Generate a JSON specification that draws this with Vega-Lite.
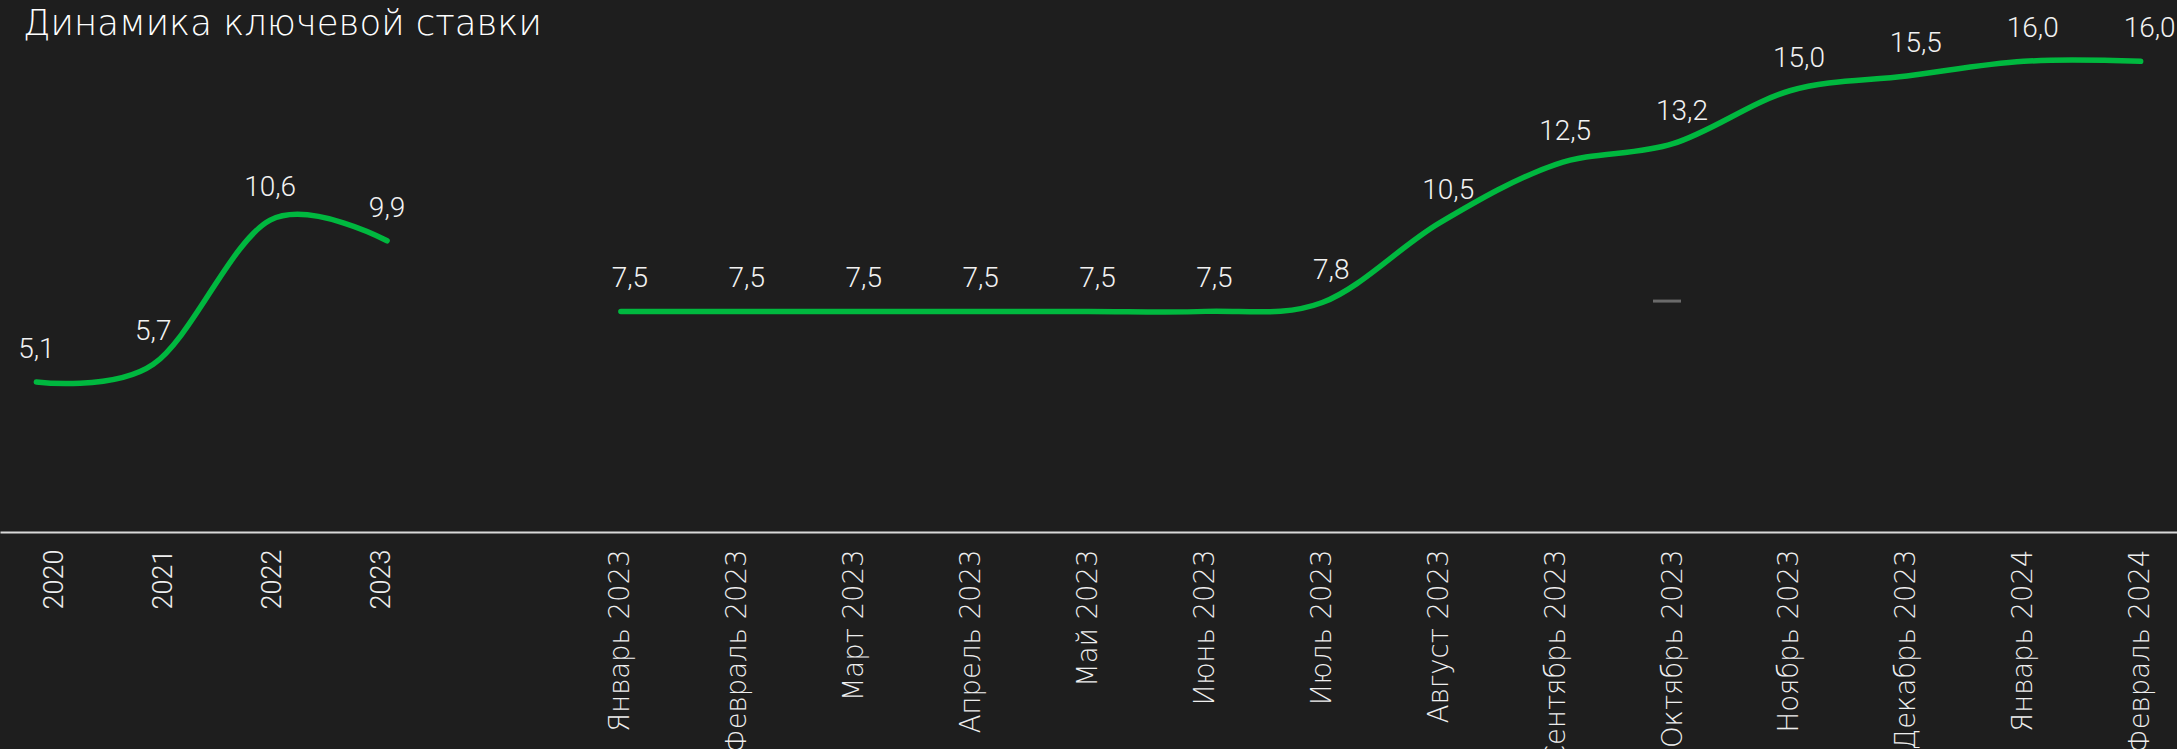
{
  "$schema": "https://vega.github.io/schema/vega-lite/v6.json",
  "width": 2177,
  "height": 532,
  "autosize": {"type": "none"},
  "padding": {"left": 0, "top": 0, "right": 0, "bottom": 217},
  "background": "#1e1e1e",
  "config": {
    "view": {"stroke": null},
    "locale": {"number": {"decimal": ",", "thousands": " ", "grouping": [3], "currency": ["", ""]}}
  },
  "title": {
    "text": "Динамика ключевой ставки",
    "anchor": "start",
    "frame": "group",
    "orient": "top",
    "offset": -37,
    "baseline": "alphabetic",
    "dx": 23,
    "dy": 33,
    "font": "DejaVu Sans",
    "fontSize": 35.5,
    "fontWeight": 200,
    "color": "#ffffff"
  },
  "datasets": {
    "rates": [
      {"period": "2020", "series": "годы", "rate": 5.1},
      {"period": "2021", "series": "годы", "rate": 5.7},
      {"period": "2022", "series": "годы", "rate": 10.6},
      {"period": "2023", "series": "годы", "rate": 9.9},
      {"period": "Январь 2023", "series": "месяцы", "rate": 7.5},
      {"period": "Февраль 2023", "series": "месяцы", "rate": 7.5},
      {"period": "Март 2023", "series": "месяцы", "rate": 7.5},
      {"period": "Апрель 2023", "series": "месяцы", "rate": 7.5},
      {"period": "Май 2023", "series": "месяцы", "rate": 7.5},
      {"period": "Июнь 2023", "series": "месяцы", "rate": 7.5},
      {"period": "Июль 2023", "series": "месяцы", "rate": 7.8},
      {"period": "Август 2023", "series": "месяцы", "rate": 10.5},
      {"period": "Сентябрь 2023", "series": "месяцы", "rate": 12.5},
      {"period": "Октябрь 2023", "series": "месяцы", "rate": 13.2},
      {"period": "Ноябрь 2023", "series": "месяцы", "rate": 15.0},
      {"period": "Декабрь 2023", "series": "месяцы", "rate": 15.5},
      {"period": "Январь 2024", "series": "месяцы", "rate": 16.0},
      {"period": "Февраль 2024", "series": "месяцы", "rate": 16.0}
    ],
    "marker": [
      {"period": "Октябрь 2023", "rate": 7.85}
    ]
  },
  "encoding": {
    "x": {
      "field": "period",
      "type": "ordinal",
      "sort": null,
      "scale": {
        "type": "point",
        "padding": 0.311,
        "domain": ["2020", "2021", "2022", "2023", " ", "Январь 2023", "Февраль 2023", "Март 2023", "Апрель 2023", "Май 2023", "Июнь 2023", "Июль 2023", "Август 2023", "Сентябрь 2023", "Октябрь 2023", "Ноябрь 2023", "Декабрь 2023", "Январь 2024", "Февраль 2024"]
      },
      "axis": {
        "title": null,
        "labelAngle": -90,
        "ticks": false,
        "tickSize": 0,
        "grid": false,
        "domainColor": "#d9d9d9",
        "domainWidth": 2,
        "labelColor": "#eeeeee",
        "labelFont": {"condition": {"test": "length(datum.value) == 4", "value": "Roboto"}, "value": "DejaVu Sans"},
        "labelFontSize": {"condition": {"test": "length(datum.value) == 4", "value": 27}, "value": 27.5},
        "labelFontWeight": {"condition": {"test": "length(datum.value) == 4", "value": 300}, "value": 200},
        "labelPadding": 17,
        "labelLimit": 0,
        "labelOverlap": false,
        "labelOffset": {"condition": [
          {"test": "datum.value === '2020'", "value": 18},
          {"test": "datum.value === '2021'", "value": 10},
          {"test": "datum.value === '2022'", "value": 2},
          {"test": "datum.value === '2023'", "value": -6}
        ], "value": 0}
      }
    },
    "y": {
      "field": "rate",
      "type": "quantitative",
      "scale": {"domain": [0, 18.085], "nice": false, "zero": true},
      "axis": null
    }
  },
  "layer": [
    {
      "data": {"name": "rates"},
      "mark": {"type": "line", "interpolate": "cardinal", "tension": 0, "color": "#00b83f", "strokeWidth": 5.5, "strokeCap": "round", "strokeJoin": "round"},
      "encoding": {"detail": {"field": "series"}}
    },
    {
      "data": {"name": "rates"},
      "transform": [{"filter": "datum.series === 'годы'"}],
      "mark": {"type": "text", "font": "Roboto", "fontSize": 28, "fontWeight": 300, "color": "#f2f2f2", "baseline": "alphabetic", "dy": -24},
      "encoding": {"text": {"field": "rate", "type": "quantitative", "format": ".1f"}}
    },
    {
      "data": {"name": "rates"},
      "transform": [{"filter": "datum.series === 'месяцы'"}],
      "mark": {"type": "text", "font": "Roboto", "fontSize": 28, "fontWeight": 300, "color": "#f2f2f2", "baseline": "alphabetic", "dy": -24, "dx": 9},
      "encoding": {"text": {"field": "rate", "type": "quantitative", "format": ".1f"}}
    },
    {
      "data": {"name": "marker"},
      "mark": {"type": "tick", "orient": "horizontal", "size": 28, "thickness": 3, "color": "#8a8a8a", "xOffset": -6}
    }
  ]
}
